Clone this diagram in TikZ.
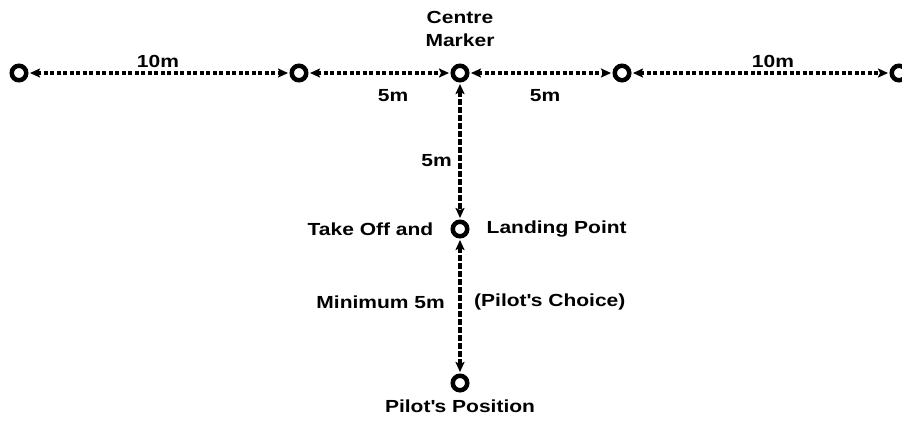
\documentclass[tikz,border=0pt]{standalone}
\usepackage{fontspec}
\setmainfont[FakeStretch=1.2]{Liberation Sans}
\usetikzlibrary{arrows.meta, positioning}

\tikzset{
  marker/.style={circle, draw, line width=4.5pt, minimum size=14.5pt, inner sep=0pt},
  dist/.style={line width=3.4pt, dash pattern=on 4pt off 2.5pt, {Stealth[length=10pt,width=9pt,inset=2pt]}-{Stealth[length=10pt,width=9pt,inset=2pt]}, shorten <=1.5pt, shorten >=1.5pt},
  vdist/.style={dist, line width=3.2pt, dash pattern=on 5.5pt off 2.5pt},
  lbl/.style={font=\bfseries\fontsize{17.5}{23}\selectfont, inner sep=0pt}
}

\begin{document}
\begin{tikzpicture}[x=1pt, y=-1pt]
  \useasboundingbox (0,0) rectangle (902,421);

  % markers along the line
  \node[marker] (far left) at (19,73) {};
  \node[marker] (left) at (299,73) {};
  \node[marker] (centre) at (460,73) {};
  \node[marker] (right) at (622,73) {};
  \node[marker] (far right) at (899,73) {};
  \node[marker] (takeoff) at (460,229) {};
  \node[marker] (pilot) at (460,383) {};

  % distances
  \draw[dist] (far left) -- (left);
  \draw[dist] (left) -- (centre);
  \draw[dist] (centre) -- (right);
  \draw[dist] (right) -- (far right);
  \draw[vdist] (centre) -- (takeoff);
  \draw[vdist] (takeoff) -- (pilot);

  % labels
  \node[lbl, align=center] (centre name) at (460,29) {Centre\\Marker};
  \node[lbl] (d1) at (158,61) {10m};
  \node[lbl] (d2) at (393,96) {5m};
  \node[lbl] (d3) at (545,96) {5m};
  \node[lbl] (d4) at (773,61) {10m};
  \node[lbl, anchor=east] (d5) at (452,161) {5m};
  \node[lbl, left=17pt of takeoff] (take) {Take Off and};
  \node[lbl, right=17pt of takeoff] (land) {Landing Point};
  \node[lbl, anchor=east] (minimum) at (445,302) {Minimum 5m};
  \node[lbl, anchor=west] (choice) at (474,302) {(Pilot\textquotesingle s Choice)};
  \node[lbl, below=7pt of pilot] (pilot name) {Pilot\textquotesingle s Position};
\end{tikzpicture}
\end{document}
